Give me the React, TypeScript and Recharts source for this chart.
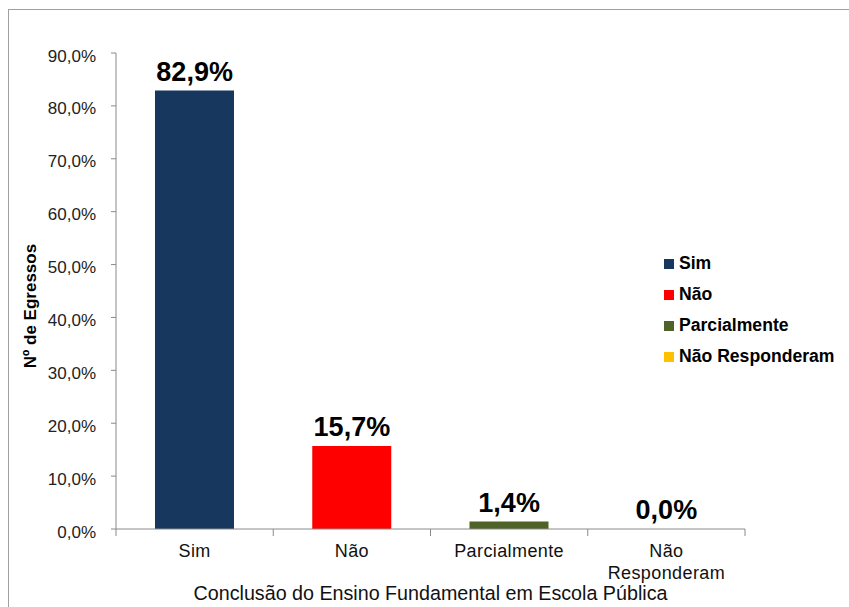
import React from 'react';
import { ComposedChart, Bar, Line, XAxis, YAxis, Cell, LabelList, Legend } from 'recharts';

const categories = ['Sim', 'Não', 'Parcialmente', 'Não Responderam'];
const percentValues = [82.9, 15.7, 1.4, 0.0];
const barColors = ['#17375E', '#FF0000', '#4F6228', '#FFC000'];
const yTicks = [0, 10, 20, 30, 40, 50, 60, 70, 80, 90];
const yAxisTitle = 'Nº de Egressos';
const xAxisTitle = 'Conclusão do Ensino Fundamental  em Escola Pública';

const data = categories.map((c, i) => ({ name: c, value: percentValues[i] }));

const FONT = '"Liberation Sans", Arial, sans-serif';
const AXIS = '#8a8a8a';

const fmt = (v: number) => v.toFixed(1).replace('.', ',') + '%';

const YTick = (props: any) => {
  const { x, y, payload } = props;
  return (
    <text x={x} y={y + 3} textAnchor="end" dominantBaseline="central" fontSize={17} fill="#222" fontFamily={FONT}>
      {fmt(payload.value)}
    </text>
  );
};

const XTick = (props: any) => {
  const { x, y, payload, index } = props;
  const half = payload && typeof payload.offset === 'number' && payload.offset > 0 ? payload.offset : 78.5;
  const label: string = String(payload.value);
  const lines = label.includes(' ') ? label.split(' ') : [label];
  return (
    <g>
      <line x1={x - half} x2={x - half} y1={y} y2={y + 7} stroke={AXIS} strokeWidth={1} />
      {index === categories.length - 1 && (
        <line x1={x + half} x2={x + half} y1={y} y2={y + 7} stroke={AXIS} strokeWidth={1} />
      )}
      {lines.map((ln, i) => (
        <text key={i} x={x} y={y + 28 + i * 22} textAnchor="middle" fontSize={18} letterSpacing={0.4} fill="#111" fontFamily={FONT}>
          {ln}
        </text>
      ))}
    </g>
  );
};

const LegendContent = () => (
  <div style={{ fontFamily: FONT }}>
    {categories.map((c, i) => (
      <div key={c} style={{ display: 'flex', alignItems: 'center', height: 31 }}>
        <span style={{ width: 10, height: 10, background: barColors[i], display: 'inline-block' }} />
        <span style={{ marginLeft: 5, fontSize: 17.6, fontWeight: 'bold', color: '#000', whiteSpace: 'nowrap' }}>{c}</span>
      </div>
    ))}
  </div>
);

const YLabel = (props: any) => {
  const vb = props.viewBox || { x: 0, y: 43, width: 107, height: 476 };
  const cx = vb.x + 27;
  const cy = vb.y + vb.height / 2 + 15;
  return (
    <text x={cx} y={cy} transform={`rotate(-90, ${cx}, ${cy})`} textAnchor="middle" fontSize={17} fontWeight="bold" fill="#000" fontFamily={FONT}>
      {yAxisTitle}
    </text>
  );
};

export default function App() {
  return (
    <div
      style={{
        position: 'fixed',
        left: 8,
        top: 9,
        width: 841,
        height: 598,
        borderTop: '1px solid #a0a0a0',
        borderLeft: '1px solid #a0a0a0',
        boxSizing: 'border-box',
        background: '#fff',
      }}
    >
      <ComposedChart width={840} height={597} data={data} margin={{ top: 43, right: 104, bottom: 0, left: 0 }}>
        <YAxis
          type="number"
          domain={[0, 90]}
          ticks={yTicks}
          width={107}
          tickSize={5}
          tickMargin={15}
          axisLine={{ stroke: AXIS }}
          tickLine={{ stroke: AXIS }}
          tick={<YTick />}
          interval={0}
          label={<YLabel />}
        />
        <XAxis
          dataKey="name"
          type="category"
          height={78}
          tickSize={0}
          tickMargin={0}
          tickLine={false}
          axisLine={{ stroke: AXIS }}
          tick={<XTick />}
          interval={0}
          label={{
            value: xAxisTitle,
            position: 'insideBottom',
            offset: 7,
            fontSize: 19.7,
            fill: '#111',
            fontFamily: FONT,
          }}
        />
        <Legend
          layout="horizontal"
          verticalAlign="middle"
          align="center"
          content={<LegendContent />}
          wrapperStyle={{ position: 'absolute', left: 655, top: 238, width: 185 }}
        />
        <Bar dataKey="value" barSize={79} isAnimationActive={false} legendType="none">
          {data.map((d, i) => (
            <Cell key={d.name} fill={barColors[i]} />
          ))}
        </Bar>
        <Line
          dataKey="value"
          stroke="transparent"
          strokeOpacity={0}
          dot={false}
          activeDot={false}
          legendType="none"
          isAnimationActive={false}
        >
          <LabelList
            dataKey="value"
            position="top"
            offset={10}
            formatter={(v: any) => fmt(Number(v))}
            style={{ fontSize: 27, fontWeight: 'bold', fill: '#000', fontFamily: FONT }}
          />
        </Line>
      </ComposedChart>
    </div>
  );
}
